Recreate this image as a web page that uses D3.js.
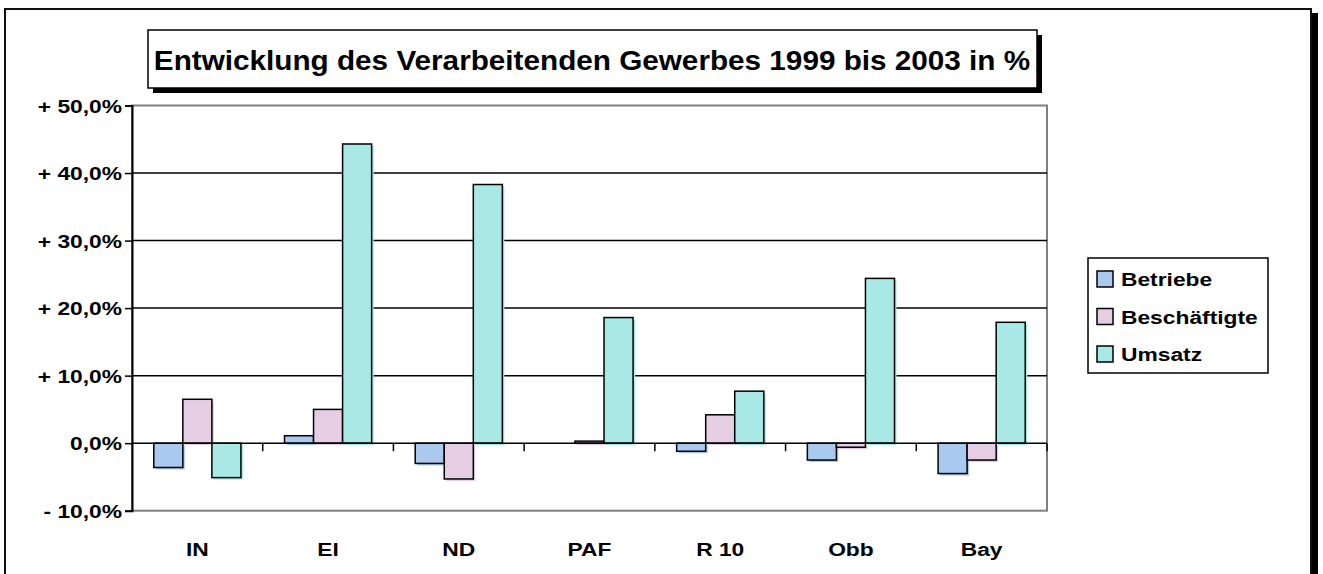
<!DOCTYPE html>
<html><head><meta charset="utf-8">
<script src="https://cdn.jsdelivr.net/npm/d3@7"></script>
<style>html,body{margin:0;padding:0;background:#fff;overflow:hidden}</style>
</head><body>
<svg id="chart" width="1323" height="574"></svg>
<script>
const titleText = "Entwicklung des Verarbeitenden Gewerbes 1999 bis 2003 in %";
const categories = ["IN", "EI", "ND", "PAF", "R 10", "Obb", "Bay"];
const seriesNames = ["Betriebe", "Beschäftigte", "Umsatz"];
const betriebe     = [-3.6, 1.1, -3.0, 0.0, -1.2, -2.5, -4.5];
const beschaeftigte= [ 6.5, 5.0, -5.3, 0.3,  4.2, -0.6, -2.5];
const umsatz       = [-5.1, 44.3, 38.3, 18.6, 7.7, 24.4, 17.9];
const yTicks = [-10, 0, 10, 20, 30, 40, 50];
const yTickLabels = ["- 10,0%", "0,0%", "+ 10,0%", "+ 20,0%", "+ 30,0%", "+ 40,0%", "+ 50,0%"];
const colors = ["#a9c9ef", "#e5cde4", "#a8e8e5"];

const seriesValues = [betriebe, beschaeftigte, umsatz];
const svg = d3.select("#chart");
const FONT = "Arial, 'Liberation Sans', sans-serif";
const SX = 1.2;

function stext(g, x, y, str, size, anchor, sx) {
  return g.append("text")
    .attr("transform", `translate(${x},${y}) scale(${sx},1)`)
    .attr("font-family", FONT).attr("font-weight", "bold")
    .attr("font-size", size).attr("text-anchor", anchor)
    .attr("fill", "#000").text(str);
}

// outer frame with shadow
svg.append("rect").attr("x", 1311).attr("y", 13).attr("width", 7).attr("height", 600).attr("fill", "#000");
svg.append("rect").attr("x", 5).attr("y", 9).attr("width", 1306).attr("height", 600)
  .attr("fill", "#fff").attr("stroke", "#111").attr("stroke-width", 2);

const pLeft = 132, pRight = 1047, pTop = 105.5, pBottom = 510.7;
const y = d3.scaleLinear().domain([-10, 50]).range([pBottom, pTop]);
const x0 = d3.scaleBand().domain(categories).range([pLeft, pRight]).padding(0);
const groupW = x0.bandwidth() * 3 / 4.5;
const x1 = d3.scaleBand().domain(seriesNames).range([0, groupW]).padding(0);
const off = (x0.bandwidth() - groupW) / 2;

// plot border (gray)
svg.append("rect").attr("x", pLeft).attr("y", pTop).attr("width", pRight - pLeft).attr("height", pBottom - pTop)
  .attr("fill", "#fff").attr("stroke", "#808080").attr("stroke-width", 2);

// gridlines
svg.append("g").selectAll("line").data([10, 20, 30, 40]).join("line")
  .attr("x1", pLeft).attr("x2", pRight).attr("y1", d => y(d)).attr("y2", d => y(d))
  .attr("stroke", "#000").attr("stroke-width", 1.5);

// y axis
const yAxis = d3.axisLeft(y).tickValues(yTicks).tickSize(7).tickFormat("");
const yg = svg.append("g").attr("transform", `translate(${pLeft},0)`).call(yAxis);
yg.select(".domain").attr("stroke", "#000").attr("stroke-width", 2);
yg.selectAll(".tick line").attr("stroke", "#000").attr("stroke-width", 1.5);
yTicks.forEach((t, i) => {
  stext(svg, 122, y(t) + 7, yTickLabels[i], 19, "end", SX);
});

// bars
categories.forEach((c, ci) => {
  seriesNames.forEach((s, si) => {
    const v = seriesValues[si][ci];
    const bx = x0(c) + off + x1(s);
    const bw = x1.bandwidth();
    const y1 = y(Math.max(0, v)), y2 = y(Math.min(0, v));
    svg.append("rect").attr("x", bx + 2).attr("y", y1 + 2).attr("width", bw).attr("height", Math.max(0, y2 - y1))
      .attr("fill", colors[si]);
    svg.append("rect").attr("x", bx).attr("y", y1).attr("width", bw).attr("height", Math.max(0, y2 - y1))
      .attr("fill", colors[si]).attr("stroke", "#000").attr("stroke-width", 1.5);
  });
});

// zero axis line with category ticks
const zg = svg.append("g");
zg.append("line").attr("x1", pLeft).attr("x2", pRight).attr("y1", y(0)).attr("y2", y(0))
  .attr("stroke", "#000").attr("stroke-width", 1.5);
d3.range(1, categories.length + 1).forEach(i => {
  const tx = pLeft + i * x0.bandwidth();
  zg.append("line").attr("x1", tx).attr("x2", tx).attr("y1", y(0)).attr("y2", y(0) + 8)
    .attr("stroke", "#000").attr("stroke-width", 1.5);
});

// x labels
categories.forEach(c => {
  stext(svg, x0(c) + x0.bandwidth() / 2, 556, c, 19, "middle", SX);
});

// title box
svg.append("rect").attr("x", 153).attr("y", 35).attr("width", 889).attr("height", 58).attr("fill", "#000");
svg.append("rect").attr("x", 148).attr("y", 30).attr("width", 889).attr("height", 58)
  .attr("fill", "#fff").attr("stroke", "#000").attr("stroke-width", 1.5);
stext(svg, 592, 70, titleText, 27, "middle", 1.1);

// legend
const lg = svg.append("g");
lg.append("rect").attr("x", 1088).attr("y", 258).attr("width", 180).attr("height", 115)
  .attr("fill", "#fff").attr("stroke", "#000").attr("stroke-width", 1.5);
seriesNames.forEach((s, i) => {
  const cy = 279 + i * 37.5;
  lg.append("rect").attr("x", 1097).attr("y", cy - 8).attr("width", 16).attr("height", 16)
    .attr("fill", colors[i]).attr("stroke", "#000").attr("stroke-width", 1.5);
  stext(lg, 1121, cy + 7, s, 19, "start", 1.2);
});
</script>
</body></html>
